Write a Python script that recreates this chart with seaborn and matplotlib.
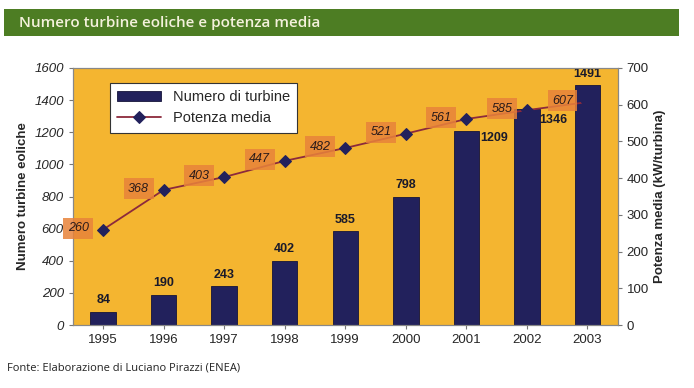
import seaborn as sns
import matplotlib.pyplot as plt
from matplotlib.patches import Rectangle

anni = ['1995', '1996', '1997', '1998', '1999', '2000', '2001', '2002', '2003']
turbine = [84, 190, 243, 402, 585, 798, 1209, 1346, 1491]
potenza = [260, 368, 403, 447, 482, 521, 561, 585, 607]

blu = '#22215c'
giallo = '#f4b530'
rosso = '#8c2a3c'
arancio = '#e8833a'

sns.set_style('ticks')
plt.rcParams['font.family'] = ['Liberation Sans', 'DejaVu Sans']

fig = plt.figure(figsize=(6.94, 3.88), dpi=100)
ax = fig.add_axes([0.105, 0.162, 0.785, 0.663])
ax.set_facecolor(giallo)

# barre: numero turbine
sns.barplot(x=anni, y=turbine, color=blu, width=0.42, saturation=1,
            edgecolor='#15143a', linewidth=0.6, ax=ax, label='Numero di turbine')
if ax.get_legend() is not None:
    ax.get_legend().remove()
ax.set_xlim(-0.5, 8.5)
ax.set_ylim(0, 1600)
ax.set_yticks(range(0, 1601, 200))
ax.set_ylabel('Numero turbine eoliche', fontsize=9.5, fontweight='bold')
ax.set_xlabel('')
for t in ax.get_yticklabels():
    t.set_fontstyle('italic')
ax.tick_params(axis='both', labelsize=9.5, length=3, color='#777777')

for i, v in enumerate(turbine):
    if anni[i] in ('2001', '2002'):
        off = (20, -5) if anni[i] == '2001' else (19, -8)
        ax.annotate(str(v), (i, v), xytext=off, textcoords='offset points',
                    ha='center', va='center', fontsize=9, fontweight='bold', color='#1a1a2a')
    else:
        ax.annotate(str(v), (i, v), xytext=(0, 4), textcoords='offset points',
                    ha='center', va='bottom', fontsize=9, fontweight='bold', color='#1a1a2a')

# linea: potenza media
ax2 = ax.twinx()
ax2.set_zorder(ax.get_zorder() + 1)
sns.lineplot(x=list(range(len(anni))), y=potenza, ax=ax2, color=rosso, linewidth=1.3,
             marker='D', markersize=6, markerfacecolor=blu, markeredgecolor=blu,
             label='Potenza media')
ax2.set_ylim(0, 700)
ax2.set_yticks(range(0, 701, 100))
ax2.set_ylabel('Potenza media (kW/turbina)', fontsize=9.5, fontweight='bold')
ax2.tick_params(axis='y', labelsize=9.5, length=3, color='#777777')
ax2.get_legend().remove()

for i, v in enumerate(potenza):
    ax2.annotate(str(v), (i, v), xytext=(-18, 1), textcoords='offset points',
                 ha='center', va='center', fontsize=9, fontstyle='italic', color='#2a1a1a',
                 bbox=dict(boxstyle='square,pad=0.35', fc=arancio, ec='none', alpha=0.85),
                 annotation_clip=False)

for a in (ax, ax2):
    for s in a.spines.values():
        s.set_color('#888888')
        s.set_linewidth(0.8)

h1, l1 = ax.get_legend_handles_labels()
h2, l2 = ax2.get_legend_handles_labels()
leg = ax2.legend(h1 + h2, l1 + l2, loc='upper left', bbox_to_anchor=(0.055, 0.97),
                 fontsize=10.5, frameon=True, fancybox=False, edgecolor='#333333',
                 framealpha=1, borderpad=0.5, handlelength=3.0)
leg.get_frame().set_linewidth(0.8)

# titolo su barra verde
fig.patches.append(Rectangle((0.006, 0.907), 0.972, 0.07, transform=fig.transFigure,
                             facecolor='#4d7d23', edgecolor='none'))
fig.text(0.028, 0.942, 'Numero turbine eoliche e potenza media', fontsize=11,
         family='Open Sans', fontweight='semibold', color='#f4f1dc', va='center')
fig.text(0.01, 0.052, 'Fonte: Elaborazione di Luciano Pirazzi (ENEA)', fontsize=8,
         family='Open Sans', color='#222222', va='center')

fig.savefig('out.png', dpi=100, facecolor='white')
